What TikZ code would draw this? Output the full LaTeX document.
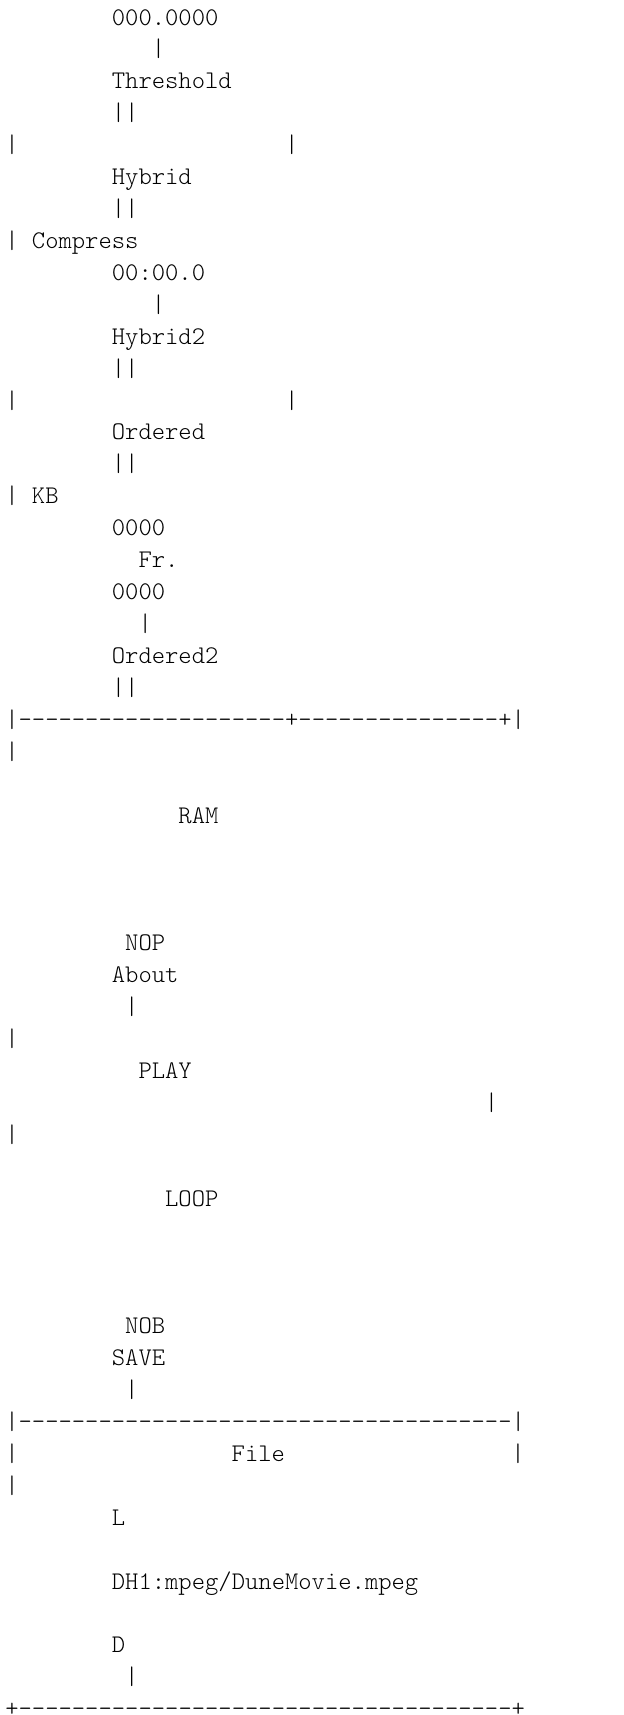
\documentclass[tikz,border=0pt]{standalone}
\usepackage{fontspec}
\setmonofont{Latin Modern Mono Light}

\begin{document}
\begin{tikzpicture}[x=6.66pt,y=-15.96pt]
      % one column = one character, one row = one text line
      \tikzset{ascii/.style={font=\ttfamily\fontsize{12.69}{14}\selectfont,anchor=base west,inner sep=0pt,outer sep=0pt}}
      \useasboundingbox (-2.65pt,12.5pt) rectangle (309.35pt,-845pt);
      \node[ascii] (pos) at (8,0) {000.0000};
      \node[ascii] (posbar) at (11,1) {|};
      \node[ascii] (thresh) at (8,2) {Threshold};
      \node[ascii] (threshbar) at (8,3) {||};
      \node[ascii] (lbarA) at (0,4) {|};
      \node[ascii] (rbarA) at (21,4) {|};
      \node[ascii] (hybrid) at (8,5) {Hybrid};
      \node[ascii] (hybridbar) at (8,6) {||};
      \node[ascii] (lbarB) at (0,7) {|};
      \node[ascii] (compress) at (2,7) {Compress};
      \node[ascii] (time) at (8,8) {00:00.0};
      \node[ascii] (timebar) at (11,9) {|};
      \node[ascii] (hybridtwo) at (8,10) {Hybrid2};
      \node[ascii] (hybridtwobar) at (8,11) {||};
      \node[ascii] (lbarC) at (0,12) {|};
      \node[ascii] (rbarC) at (21,12) {|};
      \node[ascii] (ordered) at (8,13) {Ordered};
      \node[ascii] (orderedbar) at (8,14) {||};
      \node[ascii] (lbarD) at (0,15) {|};
      \node[ascii] (kb) at (2,15) {KB};
      \node[ascii] (frA) at (8,16) {0000};
      \node[ascii] (fr) at (10,17) {Fr.};
      \node[ascii] (frB) at (8,18) {0000};
      \node[ascii] (frbar) at (10,19) {|};
      \node[ascii] (orderedtwo) at (8,20) {Ordered2};
      \node[ascii] (orderedtwobar) at (8,21) {||};
      \node[ascii] (rowA) at (0,22) {|--------------------+---------------+|};
      \node[ascii] (lbarE) at (0,23) {|};
      \node[ascii] (ram) at (13,25) {RAM};
      \node[ascii] (nop) at (9,29) {NOP};
      \node[ascii] (about) at (8,30) {About};
      \node[ascii] (aboutbar) at (9,31) {|};
      \node[ascii] (lbarF) at (0,32) {|};
      \node[ascii] (play) at (10,33) {PLAY};
      \node[ascii] (rbarF) at (36,34) {|};
      \node[ascii] (lbarG) at (0,35) {|};
      \node[ascii] (loop) at (12,37) {LOOP};
      \node[ascii] (nob) at (9,41) {NOB};
      \node[ascii] (save) at (8,42) {SAVE};
      \node[ascii] (savebar) at (9,43) {|};
      \node[ascii] (rowB) at (0,44) {|-------------------------------------|};
      \node[ascii] (lbarH) at (0,45) {|};
      \node[ascii] (file) at (17,45) {File};
      \node[ascii] (rbarH) at (38,45) {|};
      \node[ascii] (lbarI) at (0,46) {|};
      \node[ascii] (load) at (8,47) {L};
      \node[ascii] (path) at (8,49) {DH1:mpeg/DuneMovie.mpeg};
      \node[ascii] (dir) at (8,51) {D};
      \node[ascii] (dirbar) at (9,52) {|};
      \node[ascii] (rowC) at (0,53) {+-------------------------------------+};
    \end{tikzpicture}
\end{document}
